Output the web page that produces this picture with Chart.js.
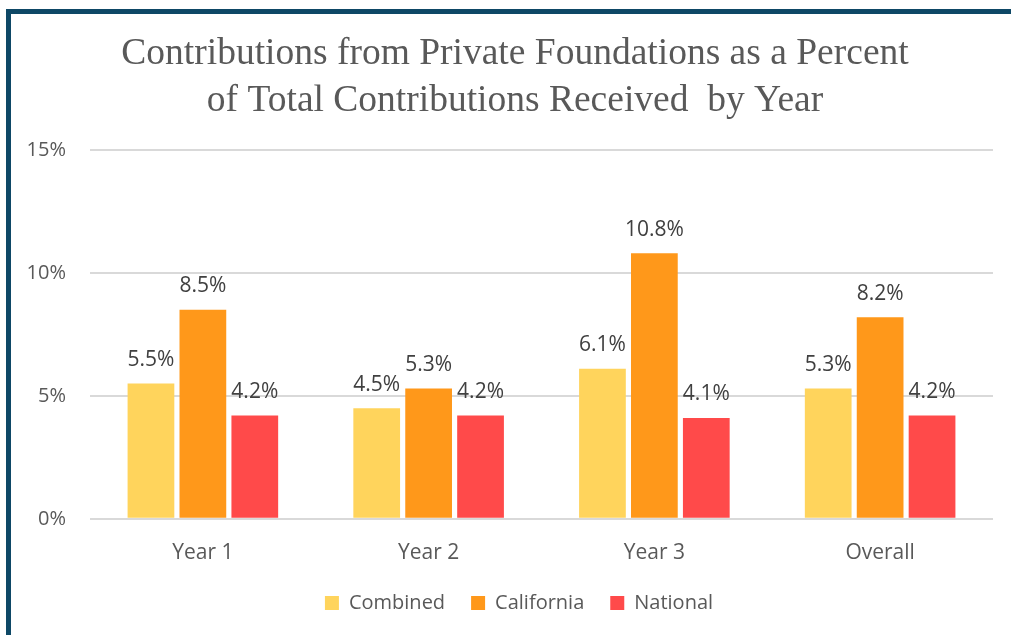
<!DOCTYPE html>
<html>
<head>
<meta charset="utf-8">
<script src="https://cdn.jsdelivr.net/npm/chart.js@4/dist/chart.umd.min.js"></script>
<style>
  html, body { margin: 0; padding: 0; background: #fff; }
  #frame {
    position: absolute; left: 6px; top: 9px; width: 1005px; height: 626px;
    border-left: 5px solid #0e4866; border-top: 5px solid #0e4866;
    box-sizing: border-box;
  }
  #wrap { position: absolute; left: 11px; top: 14px; width: 1000px; height: 621px; }
</style>
</head>
<body>
<div id="frame"></div>
<div id="wrap"><canvas id="myChart"></canvas></div>
<script>
  // chart data
  const categories = ['Year 1', 'Year 2', 'Year 3', 'Overall'];
  const combined = [5.5, 4.5, 6.1, 5.3];
  const california = [8.5, 5.3, 10.8, 8.2];
  const national = [4.2, 4.2, 4.1, 4.2];
  const yTicks = [0, 5, 10, 15];

  // draws value labels above each bar
  const barLabels = {
    id: 'barLabels',
    afterDatasetsDraw(chart) {
      const ctx = chart.ctx;
      ctx.save();
      ctx.font = '21px "Open Sans", sans-serif';
      ctx.fillStyle = '#404040';
      ctx.textAlign = 'center';
      ctx.textBaseline = 'bottom';
      chart.data.datasets.forEach(function(ds, i) {
        const meta = chart.getDatasetMeta(i);
        meta.data.forEach(function(bar, j) {
          ctx.fillText(ds.data[j].toFixed(1) + '%', bar.x, bar.y - 13);
        });
      });
      ctx.restore();
    }
  };

  // title and legend sit a bit right of the box centre in the original
  const nudge = {
    id: 'nudge',
    afterLayout(chart) {
      if (chart.titleBlock) { chart.titleBlock.left += 13; chart.titleBlock.right += 13; }
      if (chart.legend) { chart.legend.left += 17; chart.legend.right += 17; }
    }
  };

  var canvas = document.getElementById('myChart');
  var setup = {
    type: 'bar',
    data: {
      labels: categories,
      datasets: [
        { label: 'Combined', data: combined, backgroundColor: '#ffd45c' },
        { label: 'California', data: california, backgroundColor: '#ff981a' },
        { label: 'National', data: national, backgroundColor: '#ff4a4a' }
      ]
    },
    options: {
      responsive: true,
      maintainAspectRatio: false,
      animation: false,
      categoryPercentage: 0.69,
      barPercentage: 0.9,
      layout: { padding: { left: 0, right: 18, top: 17, bottom: 12 } },
      plugins: {
        tooltip: { enabled: false },
        title: {
          display: true,
          text: ['Contributions from Private Foundations as a Percent', 'of Total Contributions Received  by Year'],
          color: '#595959',
          font: { family: '"Liberation Serif", serif', size: 37.5, weight: 'normal', lineHeight: 1.24 },
          padding: { top: 0, bottom: 26 }
        },
        legend: {
          position: 'bottom',
          labels: {
            color: '#595959',
            font: { family: '"Open Sans", sans-serif', size: 20 },
            boxWidth: 14,
            boxHeight: 14,
            padding: 26
          }
        }
      },
      scales: {
        x: {
          grid: { display: false },
          border: { display: false },
          ticks: { color: '#595959', font: { family: '"Open Sans", sans-serif', size: 21 }, padding: 14 },
          afterFit: function(axis) { axis.height = axis.height - 13; }
        },
        y: {
          min: 0,
          max: 15,
          afterBuildTicks: function(axis) { axis.ticks = yTicks.map(v => ({ value: v })); },
          afterFit: function(axis) { axis.width = 79; },
          grid: { color: '#d9d9d9', lineWidth: 2, drawTicks: false },
          border: { display: false },
          ticks: {
            color: '#595959',
            font: { family: '"Open Sans", sans-serif', size: 20 },
            padding: 24,
            callback: function(v) { return v + '%'; }
          }
        }
      }
    },
    plugins: [barLabels, nudge]
  };
  chart = new Chart(canvas, setup);
</script>
</body>
</html>
